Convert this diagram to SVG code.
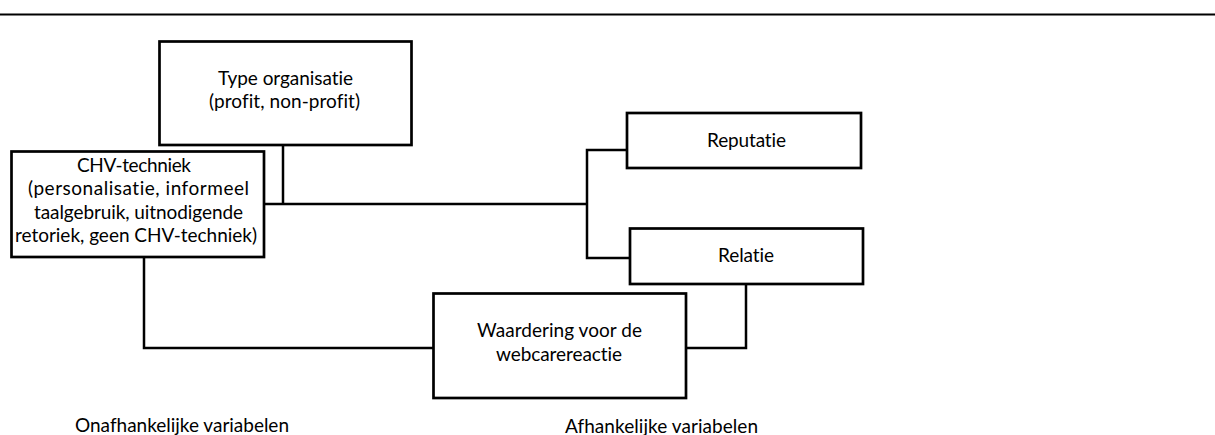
<svg xmlns="http://www.w3.org/2000/svg" width="1215" height="435" viewBox="0 0 1215 435">
<style>
.box{fill:#fff;stroke:#000;stroke-width:2.7}
.ln{fill:none;stroke:#000;stroke-width:2.5}
text{font-family:Lato,"Liberation Sans",sans-serif;font-size:19px;fill:#000;text-anchor:middle;font-variant-ligatures:none}
</style>
<rect width="1215" height="435" fill="#fff"/>
<line x1="0" y1="14.5" x2="1215" y2="14.5" stroke="#000" stroke-width="2"/>
<g id="connectors">
<polyline class="ln" points="283,145 283,204"/>
<polyline class="ln" points="264,204 587,204"/>
<polyline class="ln" points="627,150 587,150 587,258 630,258"/>
<polyline class="ln" points="144,257 144,348 433,348"/>
<polyline class="ln" points="686,348 746,348 746,284"/>
</g>
<g id="type">
<rect class="box" x="159.5" y="41.5" width="252" height="103.5"/>
<text x="285.5" y="85" textLength="135" lengthAdjust="spacing">Type organisatie</text>
<text x="284.5" y="108" textLength="151" lengthAdjust="spacing">(profit, non-profit)</text>
</g>
<g id="chv">
<rect class="box" x="11.5" y="151.5" width="252.5" height="105.5"/>
<text x="134" y="172" textLength="114" lengthAdjust="spacing">CHV-techniek</text>
<text x="138.5" y="195" textLength="221" lengthAdjust="spacing">(personalisatie, informeel</text>
<text x="138.5" y="218.5" textLength="209" lengthAdjust="spacing">taalgebruik, uitnodigende</text>
<text x="136" y="242" textLength="242" lengthAdjust="spacing">retoriek, geen CHV-techniek)</text>
</g>
<g id="reputatie">
<rect class="box" x="627" y="113" width="234" height="55"/>
<text x="746.5" y="147" textLength="79" lengthAdjust="spacing">Reputatie</text>
</g>
<g id="relatie">
<rect class="box" x="630" y="228.5" width="233" height="55.5"/>
<text x="746" y="262" textLength="56" lengthAdjust="spacing">Relatie</text>
</g>
<g id="waardering">
<rect class="box" x="433.5" y="293.5" width="252.5" height="104.5"/>
<text x="559.5" y="337" textLength="165" lengthAdjust="spacing">Waardering voor de</text>
<text x="559" y="361" textLength="126" lengthAdjust="spacing">webcarereactie</text>
</g>
<g id="labels">
<text x="182" y="432" textLength="214" lengthAdjust="spacing">Onafhankelijke variabelen</text>
<text x="661.5" y="432.5" textLength="193" lengthAdjust="spacing">Afhankelijke variabelen</text>
</g>
</svg>
